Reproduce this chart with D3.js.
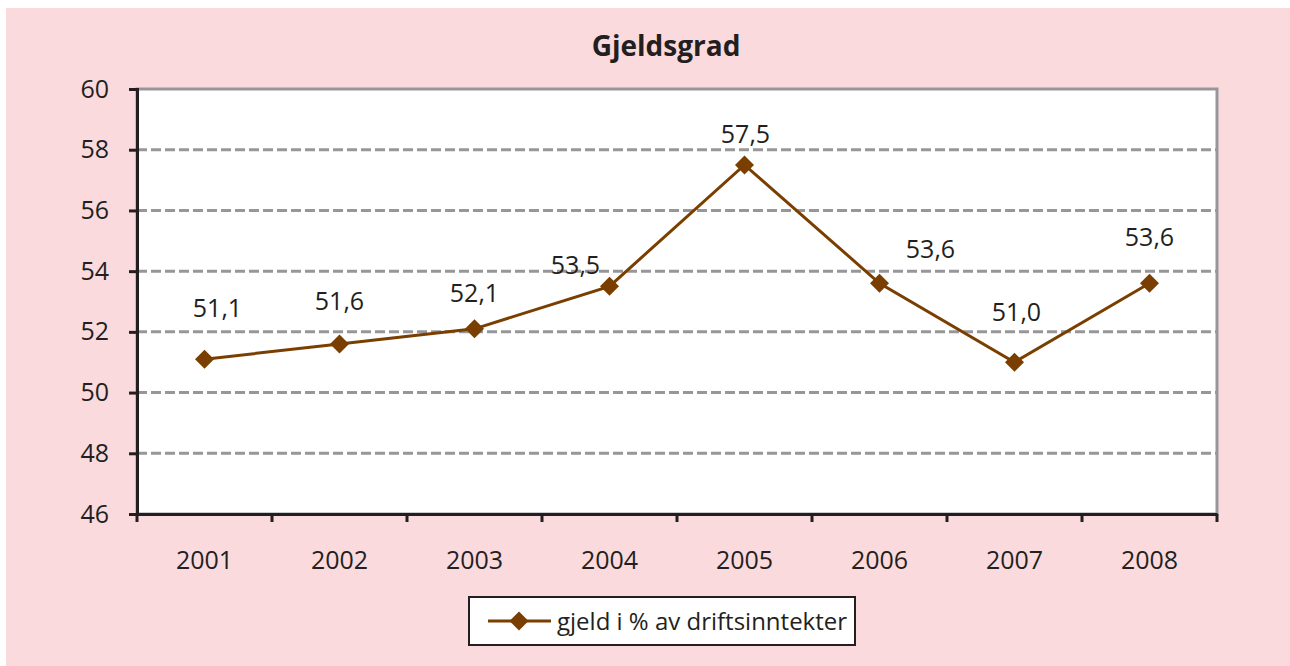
<!DOCTYPE html>
<html>
<head>
<meta charset="utf-8">
<script src="https://cdn.jsdelivr.net/npm/d3@7"></script>
<style>
  body { margin: 0; background: #fff; }
  text { font-family: "Open Sans", sans-serif; fill: #231f20; }
</style>
</head>
<body>
<script>
const width = 1290;
const height = 666;

// data
const years = ["2001", "2002", "2003", "2004", "2005", "2006", "2007", "2008"];
const gjeldsgrad = [51.1, 51.6, 52.1, 53.5, 57.5, 53.6, 51.0, 53.6];
const yTicks = [46, 48, 50, 52, 54, 56, 58, 60];
const seriesName = "gjeld i % av driftsinntekter";

// hand nudges for the value labels (px), like the original
const labelDx = [13, 0, 0, -34, 1, 51, 2, 0];
const labelDy = [-42, -34, -27, -12, -22, -25, -41, -37];

const lineColor = "#7a3f00";
const fontSize = 25;

const margin = {top: 89, right: 73, bottom: 152, left: 137};

const svg = d3.select("body").append("svg")
  .attr("width", width)
  .attr("height", height);

svg.append("rect")
  .attr("x", 6).attr("y", 8)
  .attr("width", width - 6).attr("height", height - 8)
  .attr("fill", "#fadadd");

const x = d3.scaleBand()
  .domain(years)
  .range([margin.left, width - margin.right]);

const y = d3.scaleLinear()
  .domain([46, 60])
  .range([height - margin.bottom, margin.top]);

// plot area
svg.append("rect")
  .attr("x", margin.left).attr("y", margin.top)
  .attr("width", width - margin.right - margin.left)
  .attr("height", height - margin.bottom - margin.top)
  .attr("fill", "#fff")
  .attr("stroke", "#97979b")
  .attr("stroke-width", 3);

// gridlines
svg.append("g")
  .selectAll("line")
  .data(yTicks.filter(d => d > 46 && d < 60))
  .enter().append("line")
    .attr("x1", margin.left)
    .attr("x2", width - margin.right)
    .attr("y1", d => y(d))
    .attr("y2", d => y(d))
    .attr("stroke", "#97979b")
    .attr("stroke-width", 3)
    .attr("stroke-dasharray", "10,4");

// y axis
const yAxis = svg.append("g")
  .attr("transform", `translate(${margin.left},0)`)
  .call(d3.axisLeft(y).tickValues(yTicks).tickSize(8).tickPadding(20));
yAxis.select(".domain").attr("stroke", "#231f20").attr("stroke-width", 3);
yAxis.selectAll(".tick line").attr("stroke", "#231f20").attr("stroke-width", 3);
yAxis.selectAll("text")
  .attr("font-size", fontSize)
  .attr("font-family", "Open Sans, sans-serif")
  .attr("fill", "#231f20");

// x axis
const xAxis = svg.append("g")
  .attr("transform", `translate(0,${height - margin.bottom})`)
  .call(d3.axisBottom(x).tickSize(0).tickPadding(37));
xAxis.select(".domain").attr("stroke", "#231f20").attr("stroke-width", 3);
xAxis.selectAll("text")
  .attr("font-size", fontSize)
  .attr("font-family", "Open Sans, sans-serif")
  .attr("fill", "#231f20");

// category boundary ticks
const bounds = years.map(d => x(d)).concat([x(years[years.length - 1]) + x.bandwidth()]);
xAxis.selectAll(".btick")
  .data(bounds)
  .enter().append("line")
    .attr("class", "btick")
    .attr("x1", d => d).attr("x2", d => d)
    .attr("y1", 0).attr("y2", 8)
    .attr("stroke", "#231f20")
    .attr("stroke-width", 3);

const cx = d => x(d) + x.bandwidth() / 2;

// series line
const line = d3.line()
  .x((d, i) => cx(years[i]))
  .y(d => y(d));

svg.append("path")
  .datum(gjeldsgrad)
  .attr("d", line)
  .attr("fill", "none")
  .attr("stroke", lineColor)
  .attr("stroke-width", 3);

const diamond = d3.symbol().type(d3.symbolSquare).size(180);

svg.append("g")
  .selectAll("path")
  .data(gjeldsgrad)
  .enter().append("path")
    .attr("d", diamond)
    .attr("transform", (d, i) => `translate(${cx(years[i])},${y(d)}) rotate(45)`)
    .attr("fill", lineColor);

// value labels
const fmt = d => d.toFixed(1).replace(".", ",");
svg.append("g")
  .selectAll("text")
  .data(gjeldsgrad)
  .enter().append("text")
    .attr("x", (d, i) => cx(years[i]) + labelDx[i])
    .attr("y", (d, i) => y(d) + labelDy[i])
    .attr("text-anchor", "middle")
    .attr("font-size", fontSize)
    .text(fmt);

// title
svg.append("text")
  .attr("x", 666)
  .attr("y", 56)
  .attr("text-anchor", "middle")
  .attr("font-size", 28)
  .attr("font-weight", "bold")
  .text("Gjeldsgrad");

// legend
const legend = svg.append("g").attr("transform", "translate(469,597)");
legend.append("rect")
  .attr("width", 386).attr("height", 48)
  .attr("fill", "#fff")
  .attr("stroke", "#231f20")
  .attr("stroke-width", 2);
legend.append("line")
  .attr("x1", 19).attr("x2", 82)
  .attr("y1", 24).attr("y2", 24)
  .attr("stroke", lineColor)
  .attr("stroke-width", 3);
legend.append("path")
  .attr("d", diamond)
  .attr("transform", "translate(50,24) rotate(45)")
  .attr("fill", lineColor);
legend.append("text")
  .attr("x", 88).attr("y", 33)
  .attr("font-size", 24)
  .text(seriesName);
</script>
</body>
</html>
